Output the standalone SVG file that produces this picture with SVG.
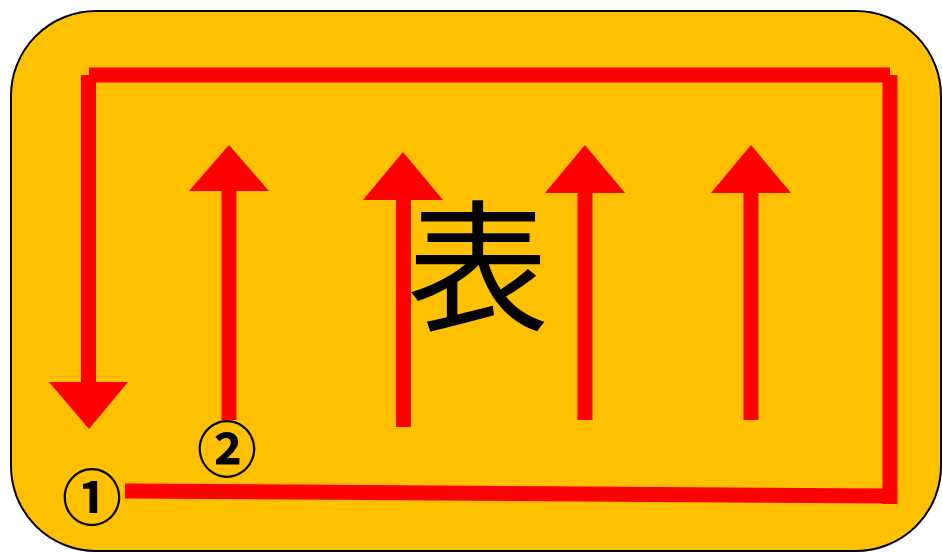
<svg xmlns="http://www.w3.org/2000/svg" width="942" height="553" viewBox="0 0 942 553">
<style>
.ln{stroke:#FF0000;stroke-width:15;fill:none}
.hd{fill:#FF0000}
.t{font-family:"Noto Sans CJK JP","Noto Sans CJK SC",sans-serif;fill:#000}
</style>
<rect width="942" height="553" fill="#FFFFFF"/>
<g id="panel">
<rect x="11" y="11" width="930" height="540" rx="85" ry="85" fill="#FFC000" stroke="#000" stroke-width="2"/>
</g>
<g id="connectors">
<path class="ln" d="M89 75 L890 75"/>
<path class="ln" d="M88.5 75 L88.5 384"/>
<polygon class="hd" points="49,382 128,382 89,429"/>
<path class="ln" d="M890 75 L890 504"/>
<path class="ln" d="M125 491 L890 496"/>
<path class="ln" d="M229 420 L229 188"/>
<polygon class="hd" points="189,191 269,191 229,145"/>
<path class="ln" d="M403.5 427 L403.5 197"/>
<polygon class="hd" points="363,200 443,200 403,152"/>
<path class="ln" d="M585 420 L585 190"/>
<polygon class="hd" points="545,193 625,193 585,145"/>
<path class="ln" d="M751 420 L751 190"/>
<polygon class="hd" points="711,193 791,193 751,145"/>
</g>
<g id="label">
<text class="t" x="478" y="320" font-size="142" text-anchor="middle">表</text>
</g>
<g id="n1">
<text class="t" x="92" y="520" font-size="60" font-weight="bold" text-anchor="middle">①</text>
</g>
<g id="n2">
<text class="t" x="227" y="472" font-size="60" font-weight="bold" text-anchor="middle">②</text>
</g>
</svg>
